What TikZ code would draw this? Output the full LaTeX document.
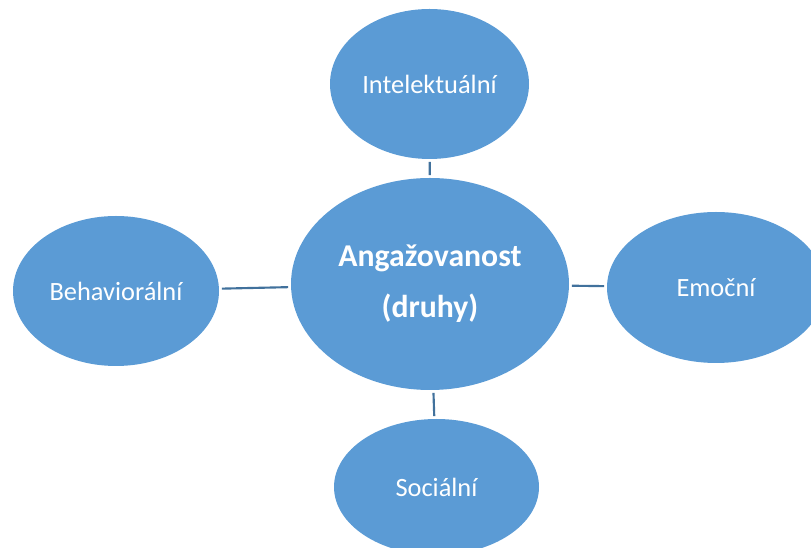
\documentclass[tikz,border=0pt]{standalone}
\usepackage{fontspec}
\setmainfont{Carlito}
\usetikzlibrary{shapes.geometric}
\definecolor{bubble}{HTML}{5B9BD5}
\definecolor{linkc}{HTML}{41719C}
\tikzset{
  bubble/.style={ellipse, fill=bubble, inner sep=0pt, text=white, align=center, font=\fontsize{19.8}{23}\selectfont},
  mainbubble/.style={bubble, font=\bfseries\fontsize{23.8}{38}\selectfont},
  link/.style={draw=linkc, line width=1.6pt, shorten <=2pt, shorten >=2pt}
}
\begin{document}
\begin{tikzpicture}[x=0.75pt,y=-0.75pt]
\useasboundingbox (0,0) rectangle (811,548);
\clip (0,0) rectangle (811,548);
\node[mainbubble, minimum width=208.5pt, minimum height=159pt] (c) at (430,284) {Angažovanost\\(druhy)};
\node[bubble, minimum width=149.25pt, minimum height=112.5pt] (t) at (429.5,84) {Intelektuální};
\node[bubble, minimum width=154.5pt, minimum height=112.5pt] (l) at (116,291) {Behaviorální};
\node[bubble, minimum width=163.5pt, minimum height=113.25pt] (r) at (716,287.5) {Emoční};
\node[bubble, minimum width=153.75pt, minimum height=102pt] (b) at (436.5,487) {Sociální};
\draw[link] (c) -- (t);
\draw[link] (c) -- (l);
\draw[link] (c) -- (r);
\draw[link] (c) -- (b);
\end{tikzpicture}
\end{document}
